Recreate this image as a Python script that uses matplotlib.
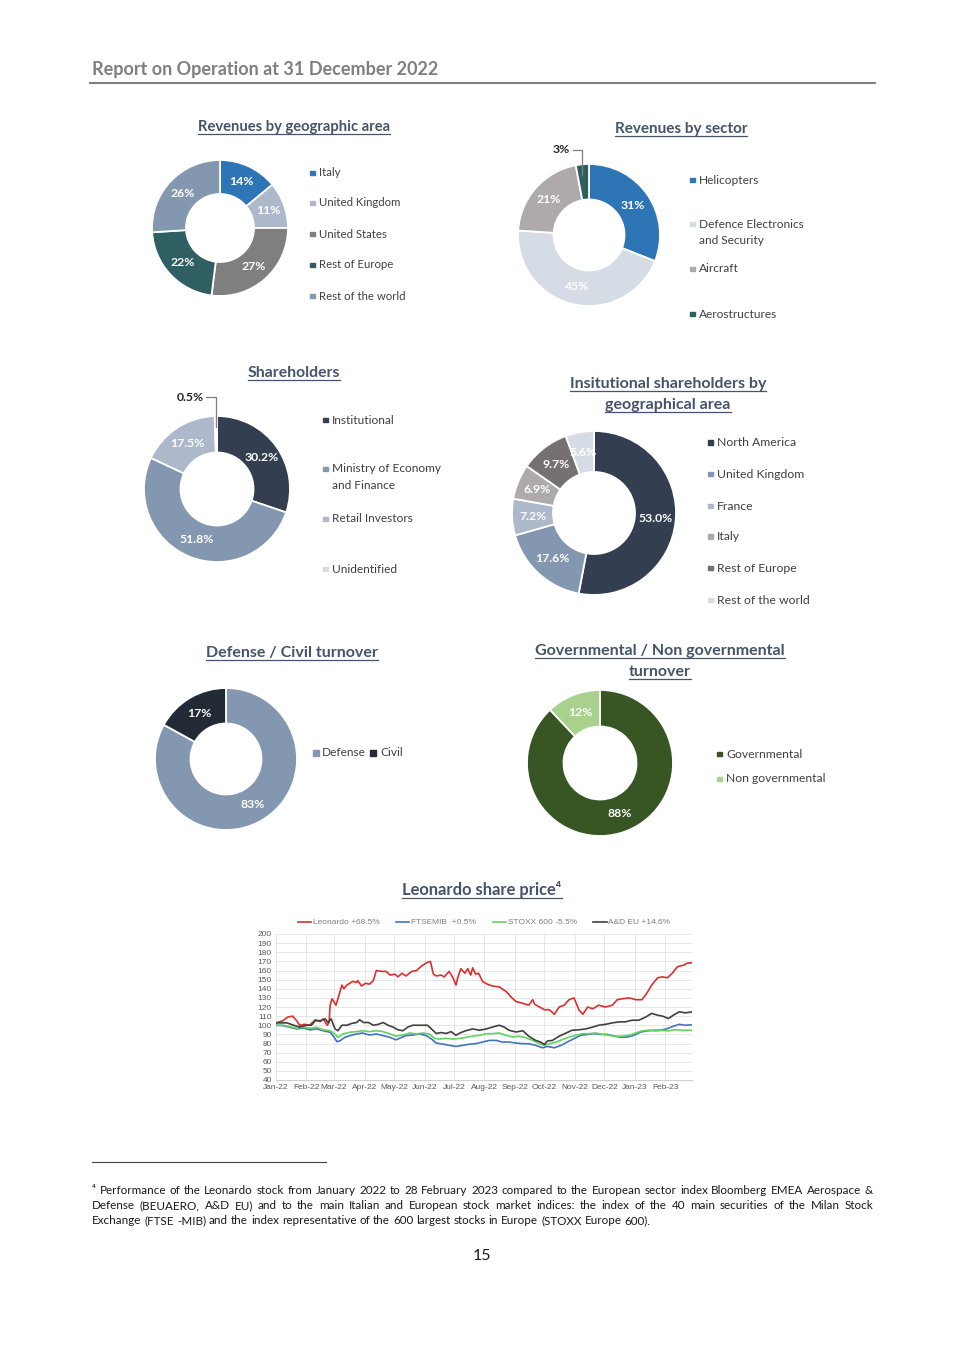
import numpy as np
import pandas as pd
import matplotlib
matplotlib.use("Agg")
import matplotlib.pyplot as plt
import matplotlib.dates as mdates
from matplotlib.patches import Rectangle
from matplotlib.lines import Line2D

plt.rcParams['font.family'] = ['Lato', 'DejaVu Sans']

W, H = 965, 1365

# ---- donut data ----
geo_labels = ['Italy', 'United Kingdom', 'United States', 'Rest of Europe', 'Rest of the world']
geo_values = [14, 11, 27, 22, 26]
geo_colors = ['#2e75b6', '#adb9ca', '#7f7f7f', '#2f5f62', '#8497b0']

sector_labels = ['Helicopters', 'Defence Electronics\nand Security', 'Aircraft', 'Aerostructures']
sector_values = [31, 45, 21, 3]
sector_colors = ['#2e75b6', '#d6dce5', '#aeaaaa', '#2f5f5f']

holder_labels = ['Institutional', 'Ministry of Economy\nand Finance', 'Retail Investors', 'Unidentified']
holder_values = [30.2, 51.8, 17.5, 0.5]
holder_colors = ['#333f50', '#8497b0', '#adb9ca', '#d6dce5']

inst_labels = ['North America', 'United Kingdom', 'France', 'Italy', 'Rest of Europe', 'Rest of the world']
inst_values = [53.0, 17.6, 7.2, 6.9, 9.7, 5.6]
inst_colors = ['#333f50', '#8497b0', '#adb9ca', '#aeaaaa', '#767171', '#d6dce5']

dc_labels = ['Defense', 'Civil']
dc_values = [83, 17]
dc_colors = ['#8497b0', '#222a35']

gov_labels = ['Governmental', 'Non governmental']
gov_values = [88, 12]
gov_colors = ['#375623', '#a9d18e']

# ---- share price data (days since 1 Jan 2022, rebased values) ----
leo_days = [0, 7, 12, 17, 21, 24, 29, 34, 40, 45, 48, 52, 54, 55, 57, 61, 63, 67, 69, 72, 75, 78, 82, 83,
            87, 91, 95, 99, 102, 107, 112, 116, 121, 124, 128, 132, 138, 143, 148, 151, 154, 157, 160,
            163, 168, 171, 176, 180, 183, 185, 188, 192, 195, 198, 200, 203, 206, 210, 215, 220, 227,
            234, 239, 244, 251, 257, 261, 263, 268, 273, 278, 283, 288, 293, 298, 303, 308, 312, 317,
            322, 328, 335, 342, 347, 352, 359, 366, 372, 377, 382, 388, 393, 398, 403, 408, 411, 415,
            418, 423]
leo_vals = [102.6, 105, 109, 110, 105, 100, 101, 100, 106, 104, 107, 100, 103, 122, 129, 122, 129, 144,
            140, 144, 146, 148, 147, 149, 143, 146, 145, 149, 160, 159, 159, 155, 156, 153, 157, 154,
            159, 160, 165, 167, 169, 170, 156, 154, 155, 153, 159, 152, 144, 153, 162, 157, 162, 155,
            163, 156, 157, 148, 145, 143, 142, 137, 131, 126, 124, 122, 128, 123, 120, 117, 117, 112,
            120, 122, 128, 130, 117, 112, 120, 118, 122, 120, 122, 128, 129, 130, 128, 128, 135, 144,
            152, 153, 152, 157, 164, 165, 166, 168, 168.5]

ftse_days = [0, 7, 14, 21, 28, 35, 41, 48, 55, 58, 62, 65, 70, 75, 82, 88, 95, 102, 109, 116, 122, 127,
             132, 139, 146, 153, 158, 163, 170, 176, 183, 190, 197, 203, 210, 217, 224, 230, 237, 244,
             251, 257, 264, 271, 276, 283, 290, 296, 303, 310, 317, 323, 330, 337, 344, 350, 357, 364,
             371, 377, 384, 391, 398, 404, 410, 416, 423]
ftse_vals = [100, 99.6, 97.8, 96, 96.7, 95, 96, 94, 92.3, 88.6, 82, 83, 86.7, 88.6, 90.4, 91.5, 89.3,
             90.4, 88.6, 86.7, 84, 86.3, 88.6, 89.3, 90.4, 88.6, 85, 80.4, 79.3, 78, 76.8, 78, 79.3,
             79.8, 81.6, 83.4, 83.4, 81.6, 81.6, 80.5, 79.8, 79.8, 78, 75.3, 76.8, 75.3, 78, 81.6,
             85.3, 89, 90, 90.8, 90, 90, 88, 87, 87, 89, 92.6, 93.8, 94.5, 94.5, 96.3, 98.9, 101, 100,
             100.5]

stoxx_days = [0, 7, 14, 21, 28, 35, 41, 48, 55, 60, 63, 68, 75, 82, 88, 95, 102, 109, 116, 122, 129,
              136, 143, 149, 156, 161, 166, 173, 180, 187, 193, 200, 207, 214, 220, 227, 234, 241, 247,
              254, 261, 268, 273, 278, 285, 291, 298, 305, 312, 318, 325, 332, 339, 345, 352, 359, 366,
              372, 379, 386, 393, 399, 406, 413, 423]
stoxx_vals = [100, 100, 98.5, 96.7, 97.8, 96.7, 97.8, 95, 94, 90.4, 86.7, 90.4, 92.3, 93, 94, 93, 94,
              93, 90.4, 88, 89.3, 91.5, 90.4, 91.5, 90.4, 85.6, 84.9, 85.6, 84.9, 85.6, 86.7, 88, 89,
              90.8, 90.8, 91.5, 89, 87, 88, 86.4, 83.4, 79.8, 78, 79.8, 81.6, 84.2, 87, 89, 90.8, 90.8,
              91.5, 90, 89, 88, 88, 89, 91.5, 93.8, 94.5, 93.8, 94.5, 93.8, 95.2, 94.5, 94.5]

ad_days = [0, 11, 18, 24, 31, 36, 40, 45, 50, 53, 56, 60, 63, 67, 72, 77, 82, 85, 89, 94, 99, 104, 109,
           114, 119, 124, 129, 134, 139, 144, 149, 154, 159, 163, 168, 173, 178, 183, 188, 193, 200,
           207, 214, 220, 227, 232, 237, 244, 251, 257, 264, 269, 273, 276, 281, 288, 295, 301, 308,
           315, 322, 328, 335, 342, 349, 355, 362, 369, 376, 382, 388, 393, 399, 404, 410, 416, 423]
ad_vals = [102.6, 102.6, 100, 98, 100, 100, 105, 105, 107, 103, 107, 96, 94, 100, 100, 102, 103, 106,
           103, 103, 100, 101, 103, 100, 98, 95, 94, 98, 100, 100, 100, 100, 95, 91, 92, 91, 93, 89,
           92, 94, 96, 94.5, 96, 98, 100, 98, 94.5, 92.6, 94, 88, 83.4, 81.6, 79, 82.7, 83.4, 88,
           91.5, 94.5, 95, 96, 98, 100, 101, 102.6, 103.7, 103.7, 105.5, 105.5, 109, 113, 111, 110,
           107.4, 111, 114.8, 113.6, 114.6]

series_names = ['Leonardo +68.5%', 'FTSEMIB  +0.5%', 'STOXX 600 -5.5%', 'A&D EU +14.6%']
series_colors = ['#dc2f2f', '#4472c4', '#5fd35f', '#404040']

TITLE_C = '#44546a'
TEXT_C = '#404040'

fig = plt.figure(figsize=(W / 100, H / 100), dpi=100)
renderer = fig.canvas.get_renderer()


def fx(x):
    return x / W


def fy(y):
    return 1 - y / H


def title(x, y, txt, size):
    # y is the baseline in page pixels; draws an underline below
    t = fig.text(fx(x), fy(y), txt, ha='center', va='baseline', fontsize=size,
                 fontweight='bold', color=TITLE_C)
    bb = t.get_window_extent(renderer)
    fig.add_artist(Line2D([bb.x0 / W, bb.x1 / W], [fy(y + 2.5)] * 2, color=TITLE_C, lw=0.9))


def legend(x, ys, labels, colors, size=8):
    for y, lab, c in zip(ys, labels, colors):
        fig.add_artist(Rectangle((fx(x - 2), fy(y + 2)), 4.5 / W, 4.5 / H, color=c,
                                 transform=fig.transFigure))
        for k, line in enumerate(lab.split('\n')):
            fig.text(fx(x + 7), fy(y + 16 * k), line, ha='left', va='center', fontsize=size,
                     color=TEXT_C)


def donut(cx, cy, r, values, colors, fmt, small=None, small_y=1.2):
    ax = fig.add_axes([fx(cx - r), fy(cy + r), 2 * r / W, 2 * r / H])
    wedges, _ = ax.pie(values, colors=colors, startangle=90, counterclock=False, radius=1,
                       wedgeprops=dict(width=0.5, edgecolor='white', linewidth=1.3))
    for i, (w, v) in enumerate(zip(wedges, values)):
        ang = np.deg2rad((w.theta1 + w.theta2) / 2)
        txt = fmt.format(v)
        if i == small:
            xm = np.cos(ang)
            ax.plot([xm, xm, xm - 0.13], [0.85, small_y, small_y], color='#7f7f7f', lw=0.9,
                    clip_on=False)
            ax.text(xm - 0.17, small_y, txt, ha='right', va='center', fontsize=8.8,
                    fontweight='bold', color='#262626')
        else:
            ax.text(0.75 * np.cos(ang), 0.75 * np.sin(ang), txt, ha='center', va='center',
                    fontsize=8.8, fontweight='bold', color='white')
    ax.set_xlim(-1, 1)
    ax.set_ylim(-1, 1)
    return ax


# ---- header ----
fig.text(fx(92), fy(70), 'Report on Operation at 31 December 2022', ha='left', va='center',
         fontsize=13, fontweight='bold', color='#7f7f7f')
fig.add_artist(Line2D([fx(90), fx(875)], [fy(83)] * 2, color='#808080', lw=1.5))

# ---- row 1 ----
title(294, 131, 'Revenues by geographic area', 10.6)
donut(220, 228, 68, geo_values, geo_colors, '{:.0f}%')
legend(312, [173, 203, 234, 265, 296], geo_labels, geo_colors, size=8.2)

title(681, 133, 'Revenues by sector', 11)
donut(589, 235, 71, sector_values, sector_colors, '{:.0f}%', small=3, small_y=1.2)
legend(692, [180, 224, 269, 314], sector_labels, sector_colors, size=8.6)

# ---- row 2 ----
title(294, 377, 'Shareholders', 11.3)
donut(217, 489, 73, holder_values, holder_colors, '{:.1f}%', small=3, small_y=1.26)
legend(325, [420, 469, 519, 569], holder_labels, holder_colors, size=8.6)

title(668, 388, 'Insitutional shareholders by', 11.5)
title(668, 409, 'geographical area', 11.5)
donut(594, 513, 82, inst_values, inst_colors, '{:.1f}%')
legend(710, [443, 474, 506, 537, 568, 600], inst_labels, inst_colors, size=8.8)

# ---- row 3 ----
title(292, 657, 'Defense / Civil turnover', 11.5)
donut(226, 759, 71, dc_values, dc_colors, '{:.0f}%')
fig.add_artist(Rectangle((fx(313), fy(756)), 6 / W, 6 / H, color=dc_colors[0],
                         transform=fig.transFigure))
fig.text(fx(322), fy(753), dc_labels[0], ha='left', va='center', fontsize=8.6, color=TEXT_C)
fig.add_artist(Rectangle((fx(370), fy(756)), 6 / W, 6 / H, color=dc_colors[1],
                         transform=fig.transFigure))
fig.text(fx(380), fy(753), dc_labels[1], ha='left', va='center', fontsize=8.6, color=TEXT_C)

title(660, 655, 'Governmental / Non governmental', 11.5)
title(660, 676, 'turnover', 11.5)
donut(600, 763, 73, gov_values, gov_colors, '{:.0f}%')
legend(719, [754, 779], gov_labels, gov_colors, size=8.7)

# ---- share price chart ----
title(482, 895, 'Leonardo share price\u2074', 11.9)
ax = fig.add_axes([fx(276), fy(1080), 416 / W, 146 / H])
start = pd.Timestamp('2022-01-01')
for days, vals, name, c in zip([leo_days, ftse_days, stoxx_days, ad_days],
                               [leo_vals, ftse_vals, stoxx_vals, ad_vals],
                               series_names, series_colors):
    dates = start + pd.to_timedelta(days, unit='D')
    ax.plot(dates, vals, color=c, lw=1.2, label=name)
ax.set_ylim(40, 200)
ax.set_yticks(range(40, 201, 10))
ax.set_xlim(start, start + pd.Timedelta(days=423))
ax.set_xticks(pd.date_range('2022-01-01', '2023-02-01', freq='MS'))
ax.xaxis.set_major_formatter(mdates.DateFormatter('%b-%y'))
ax.tick_params(labelsize=6, colors='#595959', length=0, pad=3)
for lab in ax.get_xticklabels() + ax.get_yticklabels():
    lab.set_family(['Liberation Sans', 'DejaVu Sans'])
ax.grid(True, color='#e3e3e3', lw=0.6)
for s in ['top', 'right', 'left']:
    ax.spines[s].set_visible(False)
ax.spines['bottom'].set_color('#d0d0d0')
leg = ax.legend(loc='lower center', bbox_to_anchor=(0.5, 1.0), ncol=4, frameon=False,
                handlelength=1.6, handletextpad=0.2, columnspacing=2.0,
                prop={'family': ['Liberation Sans', 'DejaVu Sans'], 'size': 6})
for t in leg.get_texts():
    t.set_color('#7f7f7f')

# ---- footnote ----
fig.add_artist(Line2D([fx(92), fx(326)], [fy(1162)] * 2, color='#404040', lw=0.8))
foot_lines = [
    '\u2074 Performance of the Leonardo stock from January 2022 to 28 February 2023 compared to the '
    'European sector index Bloomberg EMEA Aerospace &',
    'Defense (BEUAERO, A&D EU) and to the main Italian and European stock market indices: the index '
    'of the 40 main securities of the Milan Stock',
    'Exchange (FTSE -MIB) and the index representative of the 600 largest stocks in Europe '
    '(STOXX Europe 600).',
]
for k, line in enumerate(foot_lines):
    y = 1190 + 15.5 * k
    words = line.split(' ')
    texts = [fig.text(0, fy(y), w, ha='left', va='center', fontsize=8.4, color='#1a1a1a')
             for w in words]
    widths = [t.get_window_extent(renderer).width for t in texts]
    if k < len(foot_lines) - 1:
        gap = (873 - 92 - sum(widths)) / (len(words) - 1)
    else:
        gap = 3.0
    x = 92
    for t, wd in zip(texts, widths):
        t.set_x(fx(x))
        x += wd + gap

fig.text(fx(482), fy(1256), '15', ha='center', va='center', fontsize=11.5, color='#1a1a1a')

fig.savefig('out.png', dpi=100)
